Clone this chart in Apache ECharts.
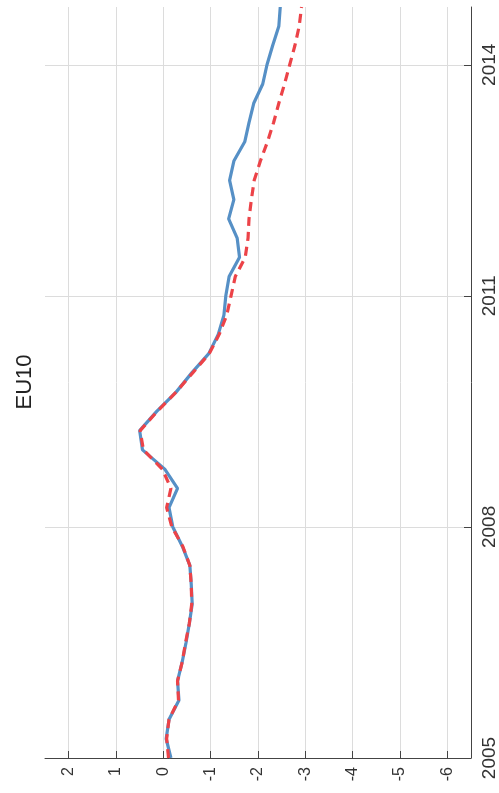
<!DOCTYPE html>
<html>
<head>
<meta charset="utf-8">
<title>EU10</title>
<script src="https://cdn.jsdelivr.net/npm/echarts@6/dist/echarts.min.js"></script>
<style>
  html, body { margin: 0; padding: 0; background: #ffffff; }
  #chart { width: 499px; height: 793px; }
</style>
</head>
<body>
<div id="chart"></div>
<script>
// Quarterly time points (vertical axis, read upward)
const quarters = [
  2005.00, 2005.25, 2005.50, 2005.75,
  2006.00, 2006.25, 2006.50, 2006.75,
  2007.00, 2007.25, 2007.50, 2007.75,
  2008.00, 2008.25, 2008.50, 2008.75,
  2009.00, 2009.25, 2009.50, 2009.75,
  2010.00, 2010.25, 2010.50, 2010.75,
  2011.00, 2011.25, 2011.50, 2011.75,
  2012.00, 2012.25, 2012.50, 2012.75,
  2013.00, 2013.25, 2013.50, 2013.75,
  2014.00, 2014.25, 2014.50, 2014.75
];

// Solid blue line
const solidValues = [
  -0.16, -0.06, -0.12, -0.33,
  -0.30, -0.40, -0.48, -0.55,
  -0.61, -0.59, -0.56, -0.40,
  -0.20, -0.12, -0.30, -0.03,
   0.44,  0.50,  0.14, -0.27,
  -0.60, -0.96, -1.16, -1.28,
  -1.32, -1.39, -1.61, -1.56,
  -1.38, -1.49, -1.40, -1.49,
  -1.72, -1.81, -1.91, -2.10,
  -2.19, -2.31, -2.44, -2.47
];

// Dashed red line
const dashedValues = [
  -0.11, -0.07, -0.12, -0.32,
  -0.30, -0.40, -0.47, -0.55,
  -0.60, -0.59, -0.56, -0.41,
  -0.18, -0.07, -0.16,  0.02,
   0.42,  0.49,  0.13, -0.27,
  -0.62, -0.97, -1.18, -1.34,
  -1.43, -1.52, -1.73, -1.79,
  -1.81, -1.86, -1.92, -2.05,
  -2.20, -2.33, -2.44, -2.56,
  -2.67, -2.78, -2.87, -2.92
];

// Tick labels
const valueTicks = [2, 1, 0, -1, -2, -3, -4, -5, -6];
const yearTicks = [2005, 2008, 2011, 2014];
const titleText = 'EU10';

const FONT = "'Liberation Sans', Arial, Helvetica, sans-serif";
const TEXT_COLOR = '#333333';
const AXIS_COLOR = '#444444';
const GRID_COLOR = '#dcdcdc';

const pairs = (vals) => vals.map((v, i) => [v, quarters[i]]);

const chart = echarts.init(document.getElementById('chart'), null, { renderer: 'canvas' });

chart.setOption({
  animation: false,
  backgroundColor: '#ffffff',
  grid: { left: 45, right: 26, top: 7, bottom: 35, containLabel: false },
  xAxis: {
    type: 'value',
    min: -6.5,
    max: 2.5,
    inverse: true,
    position: 'bottom',
    axisLine: { show: true, lineStyle: { color: AXIS_COLOR, width: 1 } },
    axisTick: { show: true, inside: true, length: 7, customValues: valueTicks, lineStyle: { color: AXIS_COLOR } },
    axisLabel: {
      customValues: valueTicks,
      rotate: 90,
      margin: 9,
      fontSize: 16,
      fontFamily: FONT,
      color: TEXT_COLOR
    },
    splitLine: { show: true, lineStyle: { color: GRID_COLOR, width: 1 } }
  },
  yAxis: {
    type: 'value',
    min: 2005,
    max: 2014.75,
    position: 'right',
    axisLine: { show: true, onZero: false, lineStyle: { color: AXIS_COLOR, width: 1 } },
    axisTick: { show: true, inside: true, length: 7, customValues: yearTicks, lineStyle: { color: AXIS_COLOR } },
    axisLabel: {
      customValues: yearTicks,
      rotate: 90,
      margin: 9,
      fontSize: 19,
      fontFamily: FONT,
      color: TEXT_COLOR,
      formatter: (v) => String(Math.round(v))
    },
    splitLine: { show: true, lineStyle: { color: GRID_COLOR, width: 1 } }
  },
  graphic: [{
    type: 'text',
    x: 25,
    y: 382,
    rotation: Math.PI / 2,
    style: {
      text: titleText,
      fontSize: 22,
      fontFamily: FONT,
      fill: '#222222',
      textAlign: 'center',
      textVerticalAlign: 'middle'
    }
  }],
  series: [
    {
      name: 'solid',
      type: 'line',
      data: pairs(solidValues),
      showSymbol: false,
      smooth: false,
      z: 3,
      lineStyle: { color: '#5690c6', width: 3.2, type: 'solid' }
    },
    {
      name: 'dashed',
      type: 'line',
      data: pairs(dashedValues),
      showSymbol: false,
      smooth: false,
      z: 4,
      lineStyle: { color: '#ec4348', width: 3.2, type: [9, 6] }
    }
  ]
});
</script>
</body>
</html>
